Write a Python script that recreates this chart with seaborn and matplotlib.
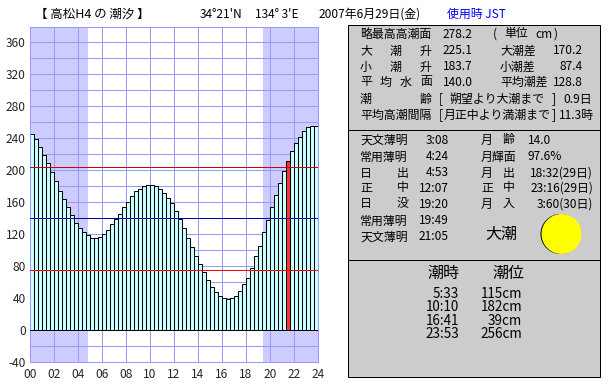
import numpy as np
import matplotlib.pyplot as plt
import seaborn as sns
from matplotlib.patches import Circle, Rectangle

# tide level per 20 minute slot (cm)
tide_cm = [245, 238, 229, 219, 208, 197, 186, 174, 163, 153, 143, 134,
           127, 122, 118, 115, 115, 116, 120, 125, 132, 138, 145, 153,
           160, 167, 173, 176, 180, 181, 181, 180, 176, 171, 165, 158,
           148, 138, 127, 115, 104, 93, 82, 72, 63, 54, 48, 43,
           40, 39, 40, 43, 49, 57, 65, 78, 92, 105, 122, 137,
           153, 169, 184, 198, 211, 223, 233, 241, 248, 253, 255, 255]
now_slot = 64
sunrise_h = 4.85
sunset_h = 19.4
level_lines = [203, 140, 75]
level_colors = ["#cc0000", "#0000aa", "#ff0000"]
x_labels = ["00", "02", "04", "06", "08", "10", "12", "14", "16", "18", "20", "22", "24"]

panel1_labels = ["略最高高潮面", "大潮升", "小潮升", "平均水面", "潮齢", "平均高潮間隔"]
panel1_values = ["278.2", "225.1", "183.7", "140.0"]
panel1_labels2 = ["", "大潮差", "小潮差", "平均潮差"]
panel1_values2 = ["", "170.2", "87.4", "128.8"]
age_note = ["[", "朔望より大潮まで", "]", "0.9日"]
interval_note = ["[", "月正中より満潮まで", "]", "11.3時"]

sun_labels = ["天文薄明", "常用薄明", "日出", "正中", "日没", "常用薄明", "天文薄明"]
sun_times = ["3:08", "4:24", "4:53", "12:07", "19:20", "19:49", "21:05"]
moon_labels = ["月齢", "月輝面", "月出", "正中", "月入"]
moon_values = ["14.0", "97.6%", "18:32(29日)", "23:16(29日)", "3:60(30日)"]

tide_times = ["5:33", "10:10", "16:41", "23:53"]
tide_levels = ["115cm", "182cm", "39cm", "256cm"]

W, H = 610, 385
GRID = "#9999ff"
SHADE = "#ccccff"

sns.set_style("white")
plt.rcParams["font.family"] = ["Noto Sans CJK JP", "DejaVu Sans"]
FS = 8.6
PX = 0.72  # one pixel in points at dpi 100

fig = plt.figure(figsize=(W / 100, H / 100), dpi=100)
ax = fig.add_axes([30 / W, 1 - 362 / H, 288 / W, 335.5 / H])

slot_hours = (np.arange(len(tide_cm)) + 0.5) / 3
sns.barplot(x=slot_hours, y=tide_cm, native_scale=True, width=1.0, color="#ccffff",
            saturation=1, edgecolor="black", linewidth=PX, ax=ax)
ax.patches[now_slot].set_facecolor("#ff3333")

ax.axvspan(0, sunrise_h, color=SHADE, lw=0, zorder=0)
ax.axvspan(sunset_h, 24, color=SHADE, lw=0, zorder=0)
for lvl, c in zip(level_lines, level_colors):
    ax.axhline(lvl, color=c, lw=PX, zorder=4)
ax.axhline(0, color="black", lw=PX, zorder=4)

ax.set_xlim(0, 24)
ax.set_ylim(-40, 379)
ax.set_xticks(np.arange(0, 25, 2))
ax.set_xticklabels(x_labels, fontsize=FS)
yt = np.arange(-40, 379, 20)
ax.set_yticks(yt)
ax.set_yticklabels([str(v) if v % 40 == 0 else "" for v in yt], fontsize=FS)
ax.set_xlabel("")
ax.set_ylabel("")
ax.grid(True, color=GRID, lw=PX)
ax.set_axisbelow(True)
ax.tick_params(length=0, pad=3)
ax.tick_params(axis="x", pad=4)
for s in ax.spines.values():
    s.set_color(GRID)
    s.set_linewidth(PX)

# overlay in pixel coordinates for the header and the grey panels
ov = fig.add_axes([0, 0, 1, 1], facecolor="none")
ov.set_xlim(0, W)
ov.set_ylim(H, 0)
ov.axis("off")


def put(x, y, s, size=FS, ha="left", color="black"):
    ov.text(x, y, s, fontsize=size, ha=ha, va="center", color=color)


def spread(x0, x1, y, s):
    # evenly spaced characters, like the padded labels of the original
    for xc, ch in zip(np.linspace(x0, x1, len(s)), s):
        put(xc, y, ch)


put(35, 14, "【 高松H4 の 潮汐 】", size=9)
put(200, 14, "34°21'N")
put(255, 14, "134° 3'E")
put(319, 14, "2007年6月29日(金)")
put(447, 14, "使用時 JST", color="#0000ff")

for top, bottom in [(25, 130), (130, 260), (260, 377)]:
    ov.add_patch(Rectangle((347.5, top), 252.5, bottom - top, fc="#cccccc", ec="black", lw=PX))

rows1 = [34, 51, 67, 82, 99, 115]
for i, y in enumerate(rows1):
    label = panel1_labels[i]
    if len(label) == 6:
        put(360, y, label)
    else:
        spread(360, 420, y, label)
for y, v in zip(rows1, panel1_values):
    put(443, y, v)
for y, v in zip(rows1, panel1_labels2):
    put(500, y, v)
for y, v in zip(rows1, panel1_values2):
    put(583, y, v, ha="right")

put(493, rows1[0], "(")
put(504, rows1[0], "単位")
put(535, rows1[0], "cm")
put(554, rows1[0], ")")

put(439, rows1[4], age_note[0])
put(449, rows1[4], age_note[1])
put(552, rows1[4], age_note[2])
put(592, rows1[4], age_note[3], ha="right")
put(439, rows1[5], interval_note[0])
put(444, rows1[5], interval_note[1])
put(552, rows1[5], interval_note[2])
put(594, rows1[5], interval_note[3], ha="right")

rows2 = [140, 157, 173, 188, 204, 221, 237]
for i, y in enumerate(rows2):
    label = sun_labels[i]
    if len(label) == 2:
        spread(360, 397, y, label)
    else:
        put(360, y, label)
    put(449, y, sun_times[i], ha="right")
for i, y in enumerate(rows2[:5]):
    label = moon_labels[i]
    if len(label) == 2:
        spread(481, 503, y, label)
    else:
        put(481, y, label)
    if i >= 2:
        put(593, y, moon_values[i], ha="right")
    else:
        put(528, y, moon_values[i])

put(485, 234, "大潮", size=11.5)
ov.add_patch(Circle((560.5, 234), 20, fc="black", lw=0))
ov.add_patch(Circle((561.5, 234), 20, fc="#ffff00", lw=0))

put(443, 273, "潮時", size=11.5, ha="center")
put(508, 273, "潮位", size=11.5, ha="center")
for y, t, lv in zip([294, 307, 321, 334], tide_times, tide_levels):
    put(459, y, t, size=9.7, ha="right")
    put(522, y, lv, size=9.7, ha="right")

fig.savefig("out.png", dpi=100)
